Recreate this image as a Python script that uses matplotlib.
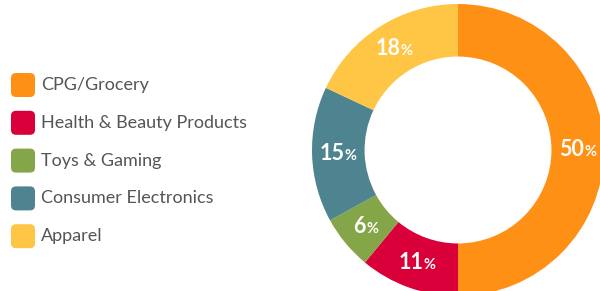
import matplotlib
matplotlib.use("Agg")
import matplotlib.pyplot as plt
from matplotlib.patches import FancyBboxPatch
from matplotlib.offsetbox import TextArea, HPacker, AnnotationBbox
import numpy as np

categories = ["CPG/Grocery", "Health & Beauty Products", "Toys & Gaming",
              "Consumer Electronics", "Apparel"]
values = [50, 11, 6, 15, 18]
colors = ["#FF9016", "#D9003A", "#84A548", "#4E8490", "#FFC544"]

plt.rcParams['font.family'] = ['Lato', 'DejaVu Sans']

W, H = 600, 291
fig = plt.figure(figsize=(W / 100, H / 100), dpi=100)

# Donut
cx, cy, R = 458, 150, 146
ax = fig.add_axes([(cx - R) / W, (H - cy - R) / H, 2 * R / W, 2 * R / H])
wedges, _ = ax.pie(values, colors=colors, startangle=90, counterclock=False,
                   radius=1.0, wedgeprops=dict(width=0.36, linewidth=0))
ax.set_xlim(-1, 1)
ax.set_ylim(-1, 1)
ax.set_aspect('equal')
ax.axis('off')

rmid = 1.0 - 0.36 / 2
cum = 0
for v in values:
    mid = cum + v / 2
    ang = np.deg2rad(90 - 360 * mid / sum(values))
    x, y = rmid * np.cos(ang), rmid * np.sin(ang)
    num = TextArea(str(v), textprops=dict(color="white", fontsize=15.5, fontweight="bold"))
    pct = TextArea("%", textprops=dict(color="white", fontsize=10.5, fontweight="bold"))
    box = HPacker(children=[num, pct], align="baseline", pad=0, sep=0)
    ab = AnnotationBbox(box, (x, y), xycoords='data', frameon=False, box_alignment=(0.5, 0.5))
    ax.add_artist(ab)
    cum += v

# Legend
lax = fig.add_axes([0, 0, 1, 1])
lax.set_xlim(0, W)
lax.set_ylim(H, 0)
lax.axis('off')
y0, dy = 85, 37.8
for i, (c, lab) in enumerate(zip(colors, categories)):
    yc = y0 + i * dy
    p = FancyBboxPatch((11, yc - 12), 24, 24, boxstyle="round,pad=0,rounding_size=5",
                       facecolor=c, edgecolor='none')
    lax.add_patch(p)
    lax.text(41, yc, lab, fontsize=13, color="#555555", va='center', ha='left')

fig.savefig("out.png", dpi=100)
